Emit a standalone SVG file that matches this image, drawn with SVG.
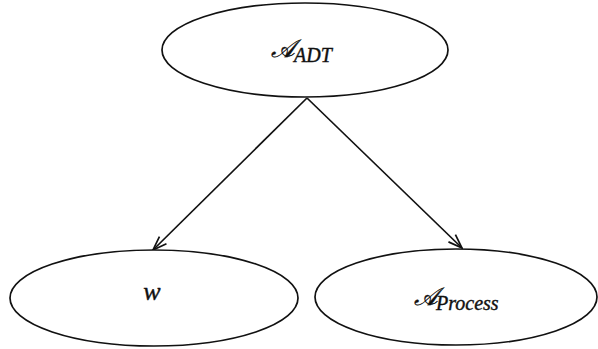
<svg xmlns="http://www.w3.org/2000/svg" width="598" height="349" viewBox="0 0 598 349">
  <defs>
    <marker id="arrow" viewBox="0 0 16 12" refX="15" refY="6" markerWidth="16" markerHeight="12" markerUnits="userSpaceOnUse" orient="auto">
      <path d="M1,1 L15,6 L1,11" fill="none" stroke="#111" stroke-width="1.7"/>
    </marker>
  </defs>
  <style>
    .node ellipse { fill: #fff; stroke: #111; stroke-width: 1.7; }
    .edge { stroke: #111; stroke-width: 1.7; fill: none; marker-end: url(#arrow); }
    .lbl { font-family: "Liberation Serif", "DejaVu Serif", serif; font-style: italic; fill: #111; stroke: #111; stroke-width: 0.4; }
    .big { font-size: 25px; }
    .sub { font-size: 20px; }
  </style>
  <rect width="598" height="349" fill="#fff"/>

  <g id="connectors">
    <line class="edge" x1="307" y1="98" x2="153" y2="250"/>
    <line class="edge" x1="307" y1="98" x2="462" y2="248"/>
  </g>

  <g id="node-adt" class="node">
    <ellipse cx="305" cy="50" rx="143" ry="47"/>
    <text class="lbl"><tspan class="big" x="271" y="57">𝒜</tspan><tspan class="sub" x="294" y="62">ADT</tspan></text>
  </g>

  <g id="node-w" class="node">
    <ellipse cx="154" cy="298" rx="144" ry="48"/>
    <text class="lbl" x="152" y="300" font-size="26" text-anchor="middle">w</text>
  </g>

  <g id="node-process" class="node">
    <ellipse cx="456" cy="297" rx="141" ry="48"/>
    <text class="lbl"><tspan class="big" x="414" y="305">𝒜</tspan><tspan class="sub" x="436" y="310">Process</tspan></text>
  </g>
</svg>
